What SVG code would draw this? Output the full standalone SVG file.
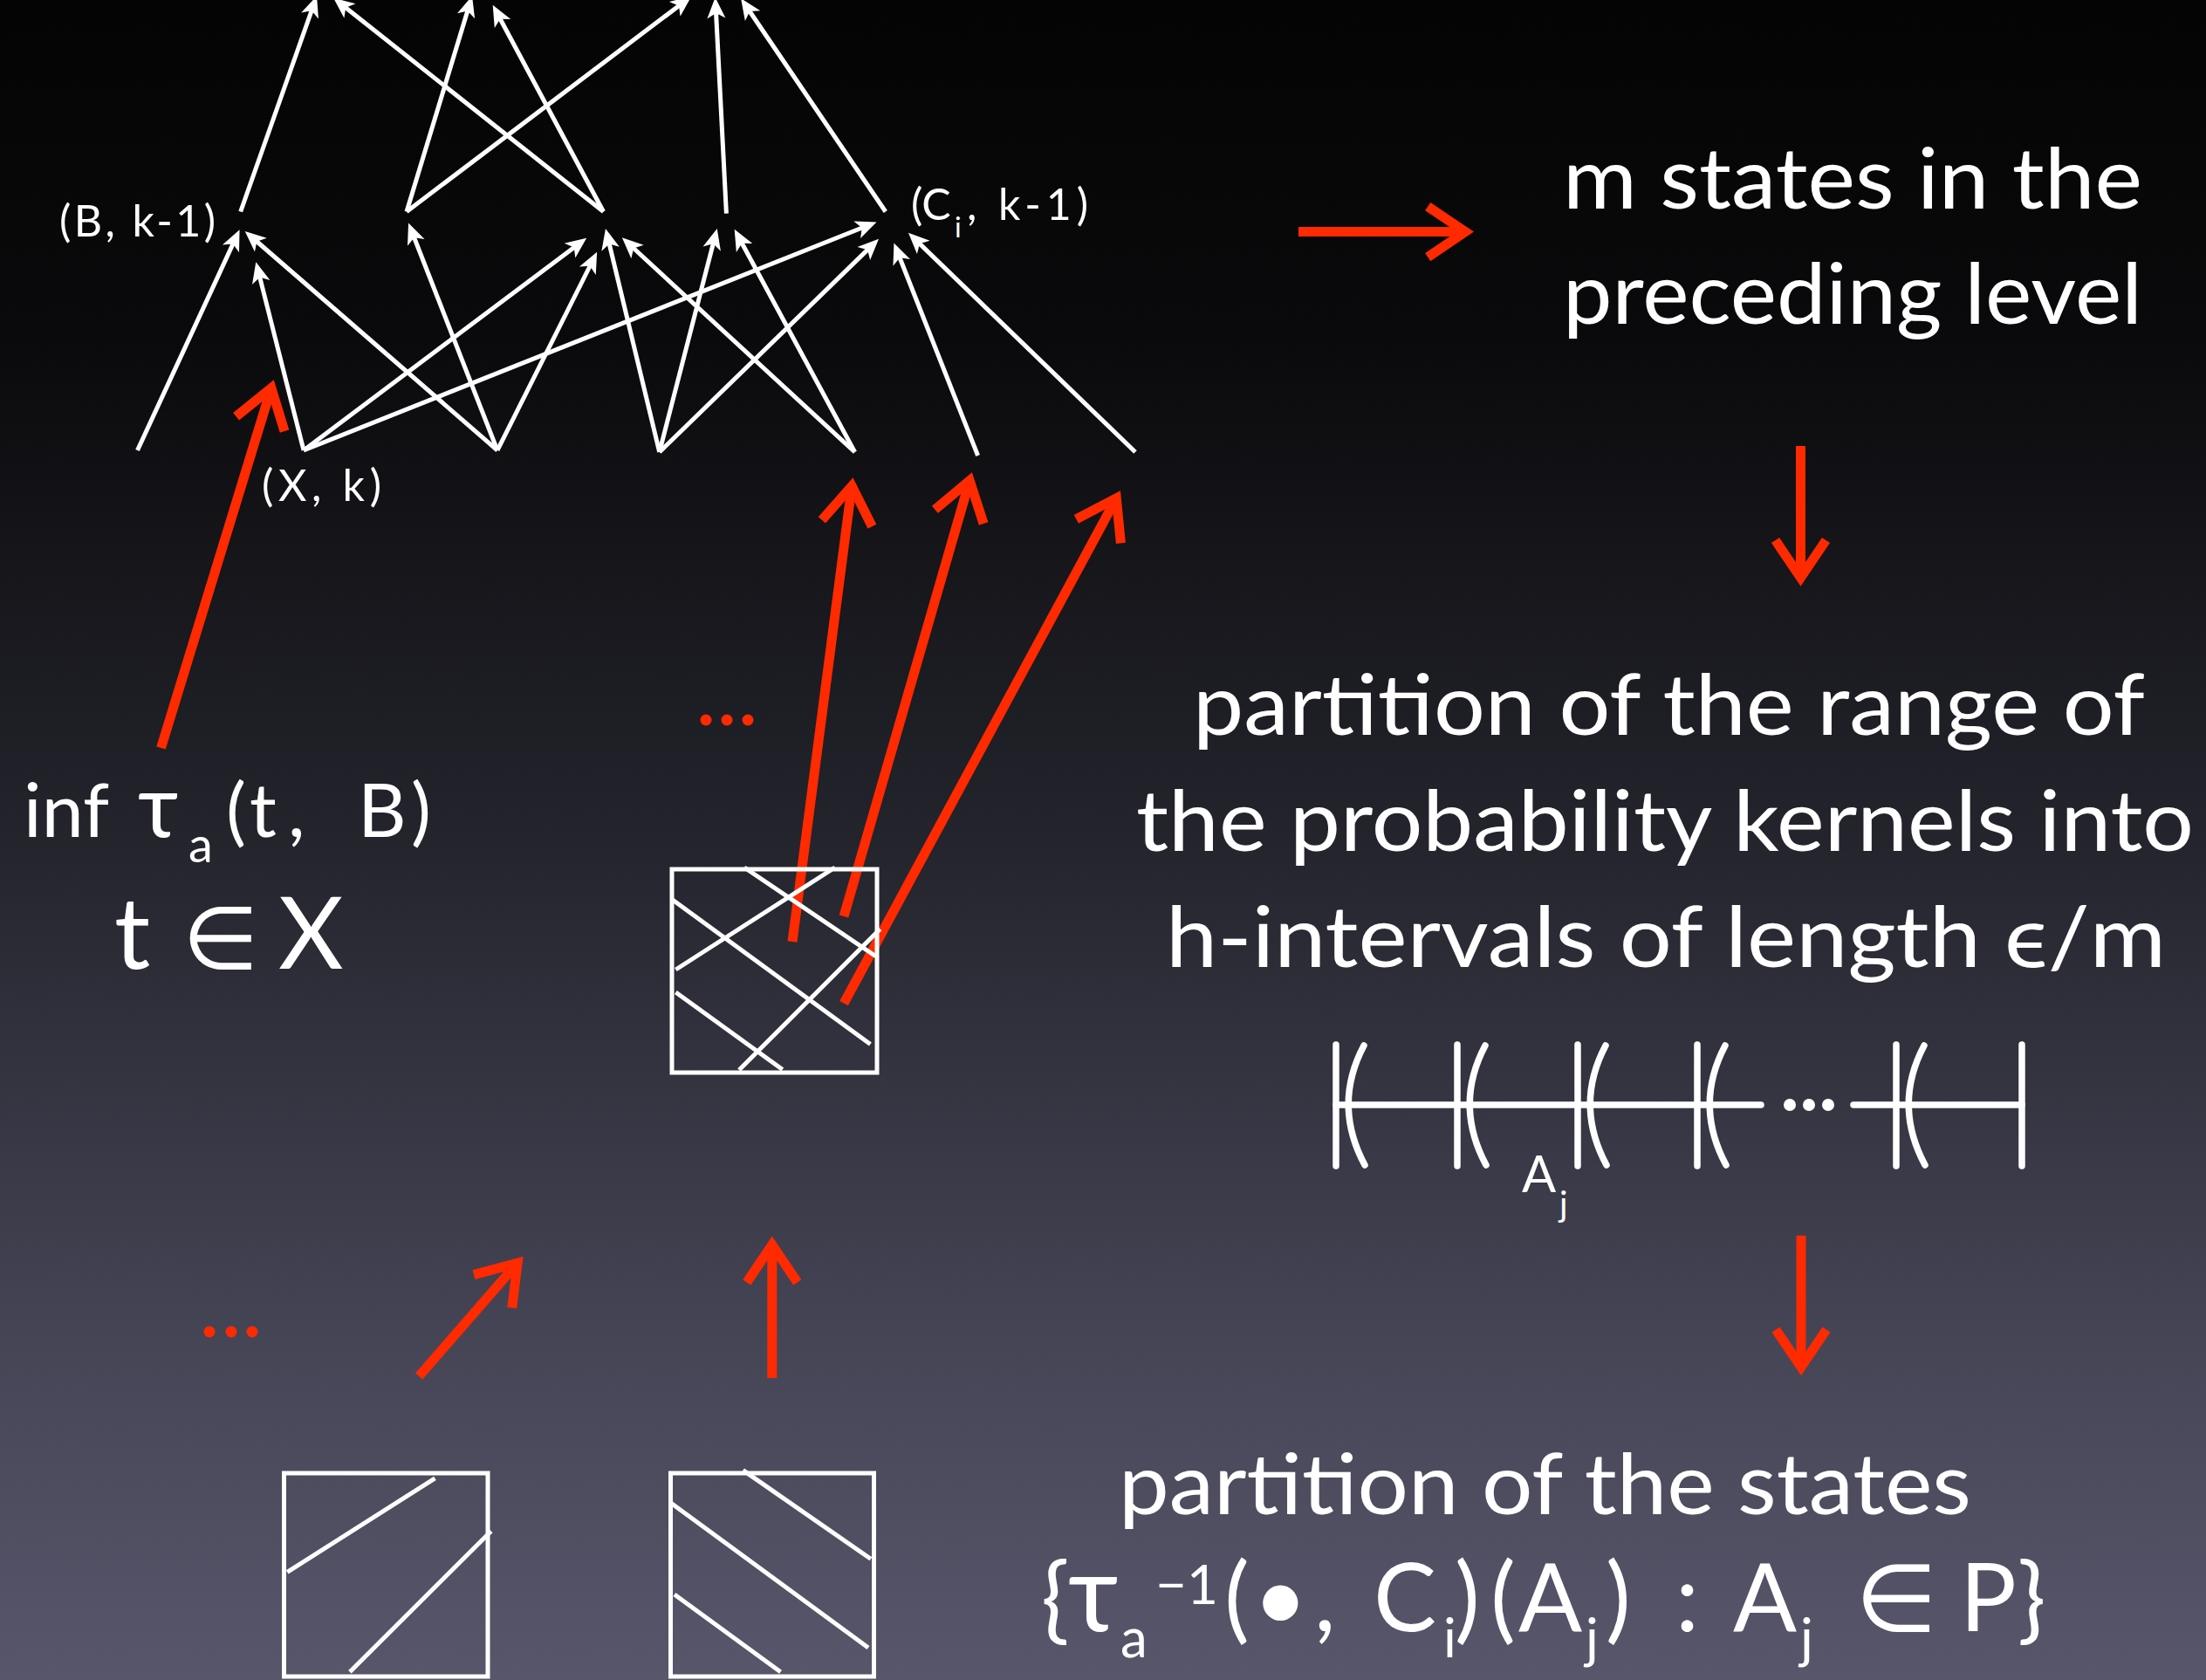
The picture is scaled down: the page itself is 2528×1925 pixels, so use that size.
<svg xmlns="http://www.w3.org/2000/svg" width="2528" height="1925" viewBox="0 0 2528 1925">
<defs>
  <linearGradient id="bg" x1="0" y1="0" x2="0" y2="1">
    <stop offset="0" stop-color="#040404"/>
    <stop offset="0.2" stop-color="#0a0a0c"/>
    <stop offset="0.5" stop-color="#24242d"/>
    <stop offset="0.8" stop-color="#464556"/>
    <stop offset="1" stop-color="#58566b"/>
  </linearGradient>
  <marker id="wh" markerUnits="userSpaceOnUse" viewBox="-20 -12 30 24" markerWidth="30" markerHeight="24" refX="0" refY="0" orient="auto" overflow="visible">
    <path d="M7,0 L-17,-10.5 L-11,0 L-17,10.5 Z" fill="#ffffff"/>
  </marker>
  <marker id="rd" markerUnits="userSpaceOnUse" viewBox="-60 -40 80 80" markerWidth="80" markerHeight="80" refX="0" refY="0" orient="auto" overflow="visible">
    <path d="M-43,-29 L0,0 L-43,29" fill="none" stroke="#ff2a00" stroke-width="11" stroke-linejoin="miter" stroke-miterlimit="10"/>
  </marker>
  <style>
    .e { fill: none; stroke: #ffffff; stroke-width: 5; marker-end: url(#wh); }
    .r { fill: none; stroke: #ff2a00; stroke-width: 11; marker-end: url(#rd); }
    .dot { fill: #ff2a00; }
    .box { fill: none; stroke: #ffffff; stroke-width: 5; }
    .hl { fill: none; stroke: #ffffff; stroke-width: 5; }
    .iv { fill: none; stroke: #ffffff; stroke-width: 7.5; stroke-linecap: round; }
    .t { font-family: Lato, "Noto Sans", "DejaVu Sans", sans-serif; fill: #ffffff; }
    .lbl { font-size: 50px; }
    .big { font-size: 96px; }
  </style>
</defs>

<rect x="0" y="0" width="2528" height="1925" fill="url(#bg)"/>

<g id="connectors">
  <!-- bottom level to middle level -->
  <path class="e" d="M157.5 516 L271.6 269.5"/>
  <path class="e" d="M348 516 L295 307"/>
  <path class="e" d="M570 516 L286 269.5"/>
  <path class="e" d="M570 516 L470.6 262"/>
  <path class="e" d="M348 516 L666.6 277"/>
  <path class="e" d="M348 516 L998 257"/>
  <path class="e" d="M570 516 L681 295"/>
  <path class="e" d="M755.7 518 L695.6 268.7"/>
  <path class="e" d="M755.7 518 L820 268.7"/>
  <path class="e" d="M755.7 518 L1002 278.6"/>
  <path class="e" d="M979.6 518 L718 277"/>
  <path class="e" d="M979.6 518 L845 269"/>
  <path class="e" d="M1120.6 522 L1027 285"/>
  <path class="e" d="M1301 518 L1046 271.6"/>
  <!-- middle level to top level -->
  <path class="e" d="M275.7 242.5 L360.7 2"/>
  <path class="e" d="M466 242.5 L539 2"/>
  <path class="e" d="M466 242.5 L786.8 0"/>
  <path class="e" d="M691.5 242.5 L387.6 2"/>
  <path class="e" d="M691.5 242.5 L568 12"/>
  <path class="e" d="M832.4 244.6 L820 4"/>
  <path class="e" d="M1014.8 242.5 L853 4"/>

  <!-- red arrows -->
  <path class="r" d="M184.5 857 L310.9 444.6"/>
  <path class="r" d="M908 1079 L976.2 556.9"/>
  <path class="r" d="M967 1050 L1111.2 550.6"/>
  <path class="r" d="M967 1149.6 L1279.3 570.8"/>
  <path class="r" d="M1488 265.6 L1679.2 265.6"/>
  <path class="r" d="M2063.5 511 L2063.5 662"/>
  <path class="r" d="M2064 1415.7 L2064 1566.5"/>
  <path class="r" d="M480.1 1577 L593.1 1447.2"/>
  <path class="r" d="M884.8 1579 L884.8 1426.4"/>
</g>

<g id="dots-mid">
  <circle class="dot" cx="809" cy="825" r="6.5"/>
  <circle class="dot" cx="833" cy="825" r="6.5"/>
  <circle class="dot" cx="857" cy="825" r="6.5"/>
</g>
<g id="dots-bottom">
  <circle class="dot" cx="240" cy="1526" r="6.5"/>
  <circle class="dot" cx="265" cy="1526" r="6.5"/>
  <circle class="dot" cx="289" cy="1526" r="6.5"/>
</g>

<g id="node-B">
  <text class="t lbl" x="68" y="271" textLength="179" lengthAdjust="spacing">(B, k-1)</text>
</g>
<g id="node-X">
  <text class="t lbl" x="300" y="574" textLength="137" lengthAdjust="spacing">(X, k)</text>
</g>
<g id="node-Ci">
  <text class="t lbl" x="1044" y="252">(C</text>
  <text class="t" x="1094" y="272" font-size="32">i</text>
  <text class="t lbl" x="1108" y="252" textLength="139" lengthAdjust="spacing">, k-1)</text>
</g>

<g id="node-inf">
  <text class="t" font-size="86">
    <tspan x="27" y="959">inf</tspan>
    <tspan x="158" y="959" font-size="100">τ</tspan>
    <tspan x="216" y="988" font-size="56">a</tspan>
    <tspan x="259" y="959">(</tspan>
    <tspan x="286" y="959">t</tspan>
    <tspan x="330" y="959">,</tspan>
    <tspan x="410" y="959">B</tspan>
    <tspan x="471" y="959">)</tspan>
  </text>
  <text class="t" font-size="115">
    <tspan x="131" y="1110">t</tspan>
    <tspan x="209" y="1110" font-size="100">∈</tspan>
    <tspan x="319" y="1110">X</tspan>
  </text>
</g>

<g id="node-crossbox">
  <rect class="box" x="770" y="996" width="235" height="233"/>
  <path class="hl" d="M853 994 L1003.6 1095.7"/>
  <path class="hl" d="M770 1030.6 L997.4 1196.4"/>
  <path class="hl" d="M774.4 1137 L896.7 1225.5"/>
  <path class="hl" d="M774.4 1111 L956.8 994"/>
  <path class="hl" d="M847 1226 L1008.6 1064.6"/>
</g>

<g id="node-box1">
  <rect class="box" x="325.5" y="1688" width="233.5" height="233"/>
  <path class="hl" d="M329.2 1801.4 L498.5 1693.8"/>
  <path class="hl" d="M400.9 1915.8 L562.8 1754.4"/>
</g>
<g id="node-box2">
  <rect class="box" x="768.5" y="1688" width="233" height="233"/>
  <path class="hl" d="M851.5 1684.6 L997.9 1786.3"/>
  <path class="hl" d="M768.3 1721.7 L995 1887.9"/>
  <path class="hl" d="M772.9 1826.9 L894.5 1915.8"/>
</g>

<g id="node-mstates">
  <text class="t big" x="1791" y="239" textLength="664" lengthAdjust="spacingAndGlyphs">m states in the</text>
  <text class="t big" x="1791" y="371" textLength="664" lengthAdjust="spacingAndGlyphs">preceding level</text>
</g>

<g id="node-partition-range">
  <text class="t big" x="1367" y="842" textLength="1091" lengthAdjust="spacingAndGlyphs">partition of the range of</text>
  <text class="t big" x="1302" y="975" textLength="1212" lengthAdjust="spacingAndGlyphs">the probability kernels into</text>
  <text class="t big" x="1336" y="1108" textLength="1146" lengthAdjust="spacingAndGlyphs">h-intervals of length ϵ/m</text>
</g>

<g id="node-intervals">
  <path class="iv" d="M1531 1266 H2018"/>
  <path class="iv" d="M2124 1266 H2317"/>
  <path class="iv" d="M1531 1197 V1336"/>
  <path class="iv" d="M1670 1197 V1336"/>
  <path class="iv" d="M1808 1197 V1336"/>
  <path class="iv" d="M1945 1197 V1336"/>
  <path class="iv" d="M2173 1197 V1336"/>
  <path class="iv" d="M2317 1197 V1336"/>
  <path class="iv" d="M1563 1198 Q1527 1266 1564 1335"/>
  <path class="iv" d="M1702 1198 Q1666 1266 1703 1335"/>
  <path class="iv" d="M1840 1198 Q1804 1266 1841 1335"/>
  <path class="iv" d="M1977 1198 Q1941 1266 1978 1335"/>
  <path class="iv" d="M2205 1198 Q2169 1266 2206 1335"/>
  <circle cx="2051" cy="1266" r="7" fill="#ffffff"/>
  <circle cx="2073" cy="1266" r="7" fill="#ffffff"/>
  <circle cx="2095" cy="1266" r="7" fill="#ffffff"/>
  <text class="t" x="1744" y="1366" font-size="58">A<tspan x="1787" y="1394" font-size="40">j</tspan></text>
</g>

<g id="node-partition-states">
  <text class="t big" x="1282" y="1735" textLength="977" lengthAdjust="spacingAndGlyphs">partition of the states</text>
  <text class="t" font-size="108">
    <tspan x="1193" y="1869">{</tspan>
    <tspan x="1224" y="1869" font-size="124">τ</tspan>
    <tspan x="1284" y="1899" font-size="62">a</tspan>
    <tspan x="1324" y="1838" font-size="62">−1</tspan>
    <tspan x="1403" y="1869">(</tspan>
    <tspan x="1436" y="1869">•</tspan>
    <tspan x="1506" y="1869">,</tspan>
    <tspan x="1574" y="1869">C</tspan>
    <tspan x="1654" y="1899" font-size="62">i</tspan>
    <tspan x="1667" y="1869">)</tspan>
    <tspan x="1708" y="1869">(</tspan>
    <tspan x="1740" y="1869">A</tspan>
    <tspan x="1817" y="1899" font-size="62">j</tspan>
    <tspan x="1840" y="1869">)</tspan>
    <tspan x="1920" y="1869">:</tspan>
    <tspan x="1986" y="1869">A</tspan>
    <tspan x="2063" y="1899" font-size="62">j</tspan>
    <tspan x="2126" y="1869">∈</tspan>
    <tspan x="2246" y="1869">P</tspan>
    <tspan x="2312" y="1869">}</tspan>
  </text>
</g>
</svg>
